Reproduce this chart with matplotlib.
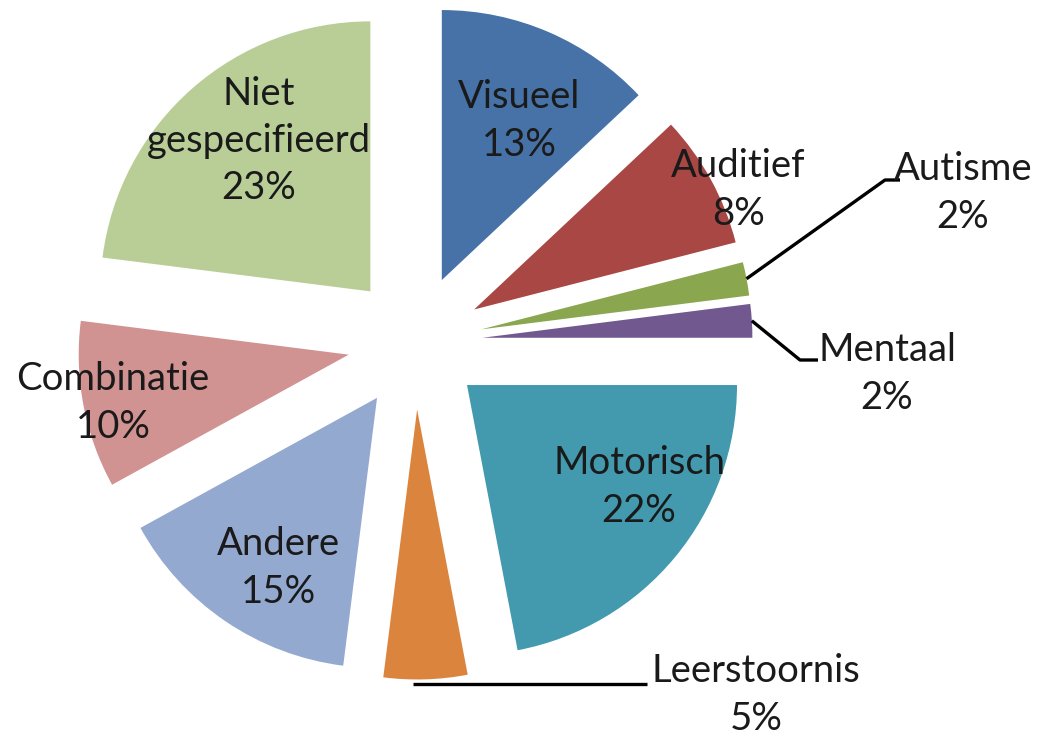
import numpy as np
import matplotlib.pyplot as plt

plt.rcParams['font.family'] = ['Lato', 'DejaVu Sans']

categories = ['Visueel', 'Auditief', 'Autisme', 'Mentaal', 'Motorisch',
              'Leerstoornis', 'Andere', 'Combinatie', 'Niet\ngespecifieerd']
values = [13, 8, 2, 2, 22, 5, 15, 10, 23]
colors = ['#4672A8', '#A94744', '#8AA64F', '#71588F', '#4399AE',
          '#DB843D', '#94A9D0', '#D09392', '#B9CE96']

# label centres in pixels (x, y from top-left), pie centre ~ (415, 342), radius 270 px
label_px = [(519, 121), (738, 190), (963, 193), (887, 374), (639, 487),
            (756, 695), (278, 568), (113, 403), (259, 141)]
# leader lines: slice index -> elbow points in pixels
leaders = {2: [(885, 180), (900, 180)],
           3: [(800, 360), (818, 360)],
           5: [(647, 684)]}

W, H = 1050, 737
cx, cy, R = 415, 342, 270

fig = plt.figure(figsize=(W / 100, H / 100), dpi=100)
ax = fig.add_axes([0, 0, 1, 1])

def to_data(p):
    return ((p[0] - cx) / R, (cy - p[1]) / R)

wedges, _ = ax.pie(values, colors=colors, startangle=90, counterclock=False,
                   explode=[0.25] * len(values), radius=1.0)

for i, (name, v) in enumerate(zip(categories, values)):
    x, y = to_data(label_px[i])
    ax.text(x, y, f'{name}\n{v}%', ha='center', va='center', fontsize=27.5,
            color='#1a1a1a', linespacing=1.38)

for i, pts in leaders.items():
    w = wedges[i]
    if i == 5:
        # horizontal line along the bottom of the slice
        ang = np.deg2rad(w.theta1 + 0.35 * (w.theta2 - w.theta1))
        x0 = w.center[0] + w.r * np.cos(ang)
        y0 = to_data(pts[0])[1]
    else:
        ang = np.deg2rad((w.theta1 + w.theta2) / 2)
        x0 = w.center[0] + w.r * np.cos(ang)
        y0 = w.center[1] + w.r * np.sin(ang)
    xs = [x0] + [to_data(p)[0] for p in pts]
    ys = [y0] + [to_data(p)[1] for p in pts]
    ax.plot(xs, ys, color='black', lw=2.4, solid_capstyle='butt')

ax.set_xlim(-cx / R, (W - cx) / R)
ax.set_ylim(-(H - cy) / R, cy / R)
ax.set_aspect('equal')
ax.axis('off')

fig.savefig('out.png', dpi=100, facecolor='white')
